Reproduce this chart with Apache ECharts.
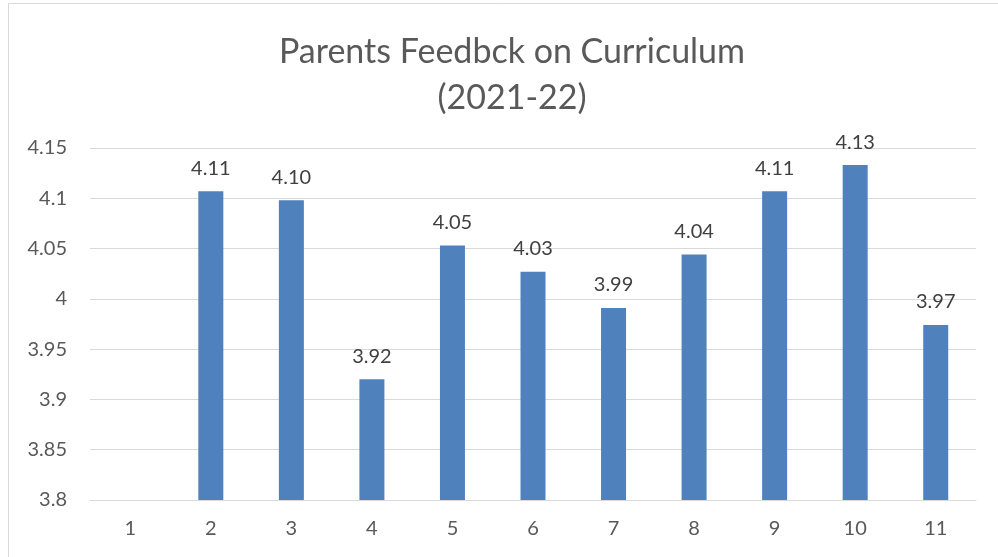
<!DOCTYPE html>
<html>
<head>
<meta charset="utf-8">
<script src="https://cdn.jsdelivr.net/npm/echarts@6/dist/echarts.min.js"></script>
<style>
  html, body { margin: 0; padding: 0; background: #fff; }
  #main { width: 998px; height: 557px; }
</style>
</head>
<body>
<div id="main"></div>
<script>
// 数据
const categories = ['1', '2', '3', '4', '5', '6', '7', '8', '9', '10', '11']
const scores = [null, 4.107, 4.098, 3.92, 4.053, 4.027, 3.991, 4.044, 4.107, 4.133, 3.974]
const yTicks = ['3.8', '3.85', '3.9', '3.95', '4', '4.05', '4.1', '4.15']

const myChart = echarts.init(document.getElementById('main'))

const font = 'Lato, "Liberation Sans", sans-serif'

const option = {
  animation: false,
  // 外框
  graphic: [{
    type: 'rect',
    shape: { x: 8.5, y: 3.5, width: 1200, height: 800 },
    style: { fill: 'none', stroke: '#d9d9d9', lineWidth: 1 },
    silent: true
  }],
  title: {
    text: 'Parents Feedbck on Curriculum\n(2021-22)',
    left: 507,
    textAlign: 'center',
    top: 24,
    textStyle: {
      color: '#595959',
      fontSize: 34,
      fontWeight: 'normal',
      fontFamily: font,
      lineHeight: 46
    }
  },
  grid: {
    left: 90,
    right: 22,
    top: 148,
    bottom: 57
  },
  xAxis: {
    type: 'category',
    data: categories,
    axisLine: { lineStyle: { color: '#d9d9d9' } },
    axisTick: { show: false },
    axisLabel: {
      color: '#595959',
      fontSize: 20,
      fontFamily: font,
      margin: 19
    }
  },
  yAxis: {
    type: 'value',
    min: 3.8,
    max: 4.15,
    interval: 0.05,
    axisLine: { show: false },
    axisTick: { show: false },
    splitLine: { lineStyle: { color: '#d9d9d9' } },
    axisLabel: {
      color: '#595959',
      fontSize: 20,
      fontFamily: font,
      margin: 23,
      formatter: function (v) {
        const i = Math.round((v - 3.8) / 0.05)
        return yTicks[i]
      }
    }
  },
  series: [{
    type: 'bar',
    data: scores,
    barWidth: 25,
    itemStyle: { color: '#4f81bd' },
    label: {
      show: true,
      position: 'top',
      distance: 13,
      color: '#404040',
      fontSize: 20,
      fontFamily: font,
      formatter: function (p) {
        return p.value == null ? '' : p.value.toFixed(2)
      }
    }
  }]
}

myChart.setOption(option)
</script>
</body>
</html>
